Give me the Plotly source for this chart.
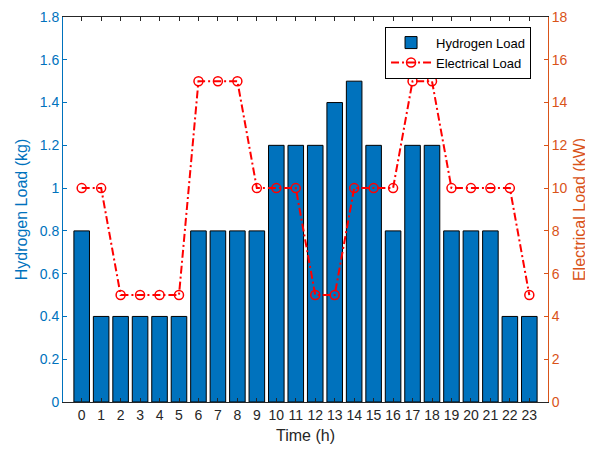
import plotly.graph_objects as go

hours = list(range(24))
hydrogen_load = [0.8, 0.4, 0.4, 0.4, 0.4, 0.4, 0.8, 0.8, 0.8, 0.8, 1.2, 1.2,
                 1.2, 1.4, 1.5, 1.2, 0.8, 1.2, 1.2, 0.8, 0.8, 0.8, 0.4, 0.4]
electrical_load = [10, 10, 5, 5, 5, 5, 15, 15, 15, 10, 10, 10,
                   5, 5, 10, 10, 10, 15, 15, 10, 10, 10, 10, 5]
x_ticks = [str(h) for h in hours]
h2_ticks = [0, 0.2, 0.4, 0.6, 0.8, 1, 1.2, 1.4, 1.6, 1.8]
h2_tick_text = ["0", "0.2", "0.4", "0.6", "0.8", "1", "1.2", "1.4", "1.6", "1.8"]
el_ticks = list(range(0, 19, 2))

BLUE = "#0072BD"
ORANGE = "#D95319"
FONT = "Liberation Sans, Arial, sans-serif"

fig = go.Figure()
fig.add_trace(go.Bar(
    x=hours, y=hydrogen_load, name="Hydrogen Load",
    marker=dict(color=BLUE, line=dict(color="black", width=1)),
    width=0.8,
))
fig.add_trace(go.Scatter(
    x=hours, y=electrical_load, name="Electrical Load", yaxis="y2",
    mode="lines+markers",
    line=dict(color="#FF0000", width=2, dash="8px,3px,2px,3px"),
    marker=dict(symbol="circle-open", size=9, color="#FF0000", line=dict(width=1.5, color="#FF0000")),
))

# page body has an 8px default margin, so the figure is offset by (8, 8)
fig.update_layout(
    width=585, height=442,
    margin=dict(l=55, r=45, t=9, b=48, autoexpand=False),
    paper_bgcolor="white", plot_bgcolor="white",
    font=dict(family=FONT, size=14, color="#262626"),
    showlegend=True,
    legend=dict(x=0.664, y=0.975, xanchor="left", yanchor="top",
                bgcolor="white", bordercolor="black", borderwidth=1,
                font=dict(size=13, color="black"), tracegroupgap=0,
                itemwidth=40),
    xaxis=dict(
        range=[-0.96, 23.96], tickmode="array", tickvals=hours, ticktext=x_ticks,
        showgrid=False, zeroline=False, showline=True, linecolor="#262626", linewidth=1,
        mirror="ticks", ticks="inside", ticklen=4, tickcolor="#262626", automargin=False,
        tickfont=dict(size=14, color="#262626"),
        title=dict(text="Time (h)", font=dict(size=16, color="#262626"), standoff=8),
    ),
    yaxis=dict(
        range=[0, 1.8], tickmode="array", tickvals=h2_ticks, ticktext=h2_tick_text,
        showgrid=False, zeroline=False, showline=True, linecolor=BLUE, linewidth=1,
        ticks="inside", ticklen=4, tickcolor=BLUE, automargin=False,
        tickfont=dict(size=14, color=BLUE),
        title=dict(text="Hydrogen Load (kg)", font=dict(size=16, color=BLUE), standoff=8),
    ),
    yaxis2=dict(
        range=[0, 18], tickmode="array", tickvals=el_ticks,
        overlaying="y", side="right", automargin=False,
        showgrid=False, zeroline=False, showline=True, linecolor=ORANGE, linewidth=1,
        ticks="inside", ticklen=4, tickcolor=ORANGE,
        tickfont=dict(size=14, color=ORANGE),
        title=dict(text="Electrical Load (kW)", font=dict(size=16, color=ORANGE), standoff=7),
    ),
    bargap=0.2,
)

fig.write_html("out.html")
